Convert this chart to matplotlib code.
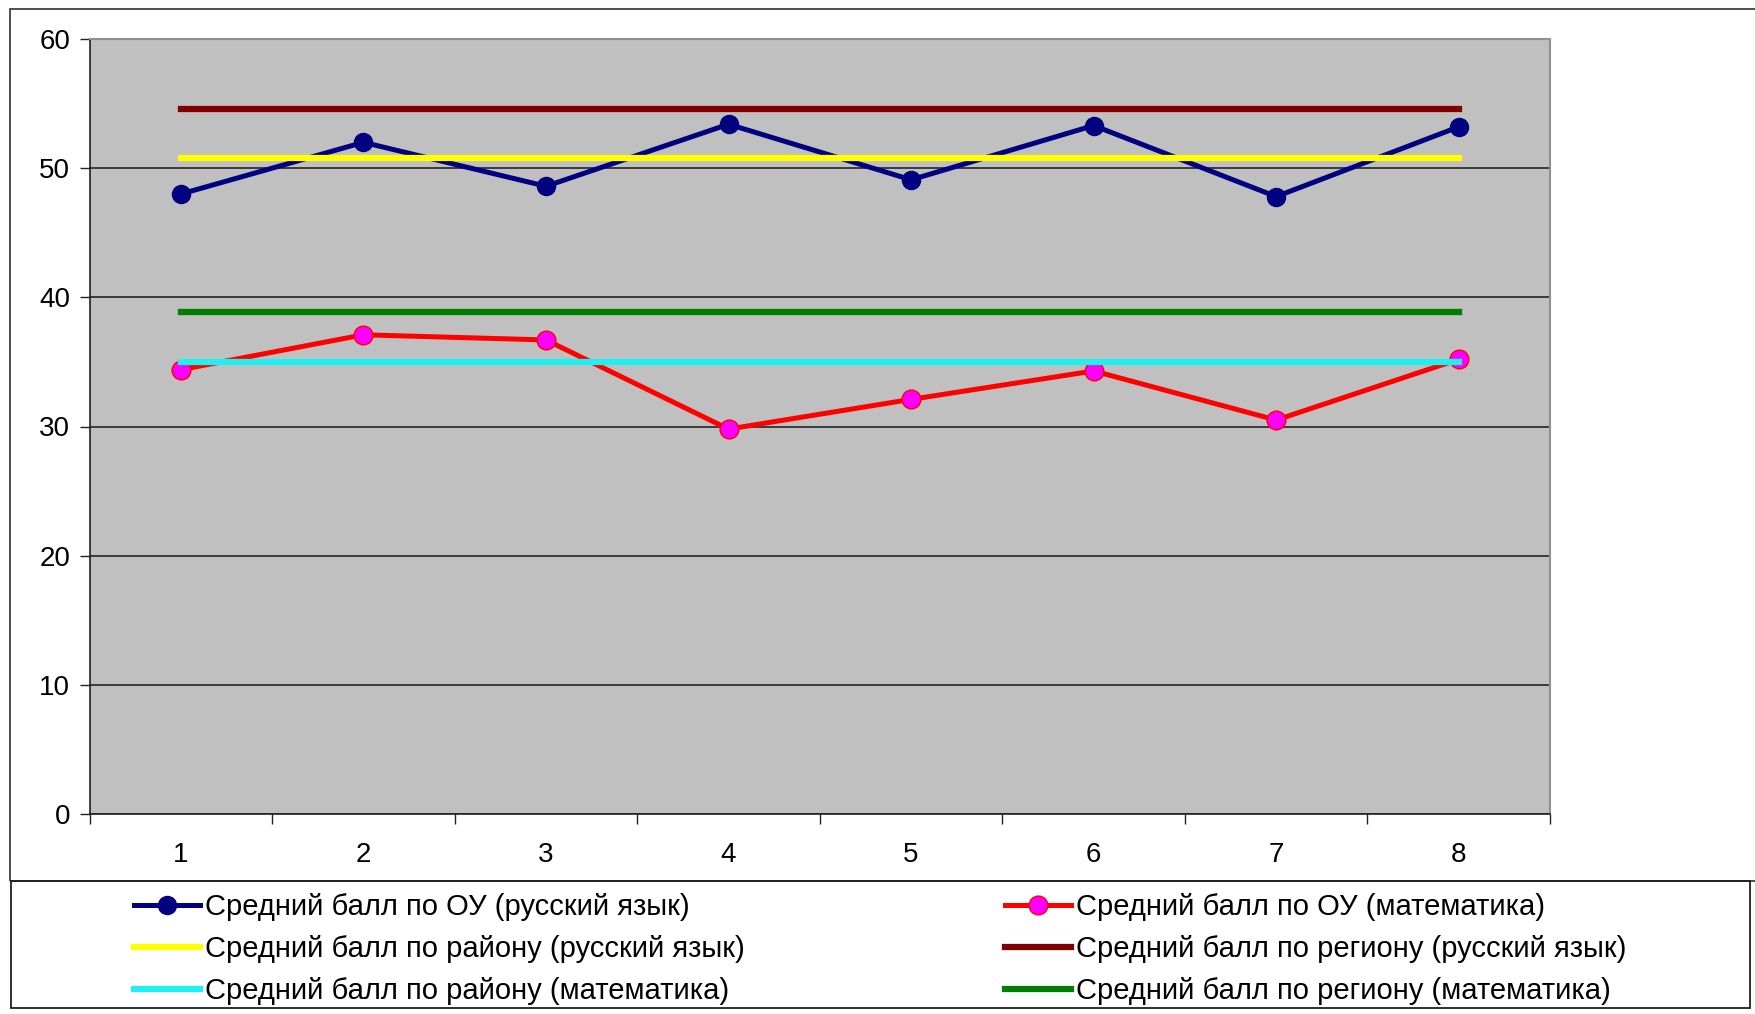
import numpy as np
import matplotlib.pyplot as plt
from matplotlib.patches import Rectangle

plt.rcParams['font.family'] = ['Liberation Sans Narrow', 'Liberation Sans', 'DejaVu Sans']

# ---- data ----
categories = [1, 2, 3, 4, 5, 6, 7, 8]
ou_rus = [48.0, 52.0, 48.6, 53.4, 49.1, 53.3, 47.8, 53.2]
ou_math = [34.4, 37.1, 36.7, 29.8, 32.1, 34.3, 30.5, 35.2]
district_rus = 50.8
region_rus = 54.6
district_math = 35.0
region_math = 38.9

labels = ['Средний балл по ОУ (русский язык)',
          'Средний балл по ОУ (математика)',
          'Средний балл по району (русский язык)',
          'Средний балл по региону (русский язык)',
          'Средний балл по району (математика)',
          'Средний балл по региону (математика)']

W, H = 1756, 1014
fig = plt.figure(figsize=(W / 100, H / 100), dpi=100)
ax = fig.add_axes([89.6 / W, 1 - 814 / H, (1550 - 89.6) / W, (814 - 39) / H])
ax.set_facecolor('#C0C0C0')

x = np.array(categories)
n = len(x)

# OU lines with markers
l_rus, = ax.plot(x, ou_rus, color='#000080', lw=3.6, marker='o', ms=13,
                 mfc='#000080', mec='#000080', zorder=3)
l_math, = ax.plot(x, ou_math, color='#FF0000', lw=3.6, marker='o', ms=13.5,
                  mfc='#FF00FF', mec='#FF0000', mew=1, zorder=3)

# reference levels (flat series)
kw = dict(lw=4.5, solid_capstyle='projecting', zorder=4)
l_dr, = ax.plot(x, [district_rus] * n, color='#FFFF00', **kw)
l_rr, = ax.plot(x, [region_rus] * n, color='#800000', **kw)
l_dm, = ax.plot(x, [district_math] * n, color='#20F0F0', **kw)
l_rm, = ax.plot(x, [region_math] * n, color='#008000', **kw)

ax.set_xlim(0.5, n + 0.5)
ax.set_ylim(0, 60)
ax.set_yticks(range(0, 61, 10))
ax.yaxis.grid(True, color='#303030', lw=1.3)
ax.set_axisbelow(True)

ax.set_xticks(np.arange(0.5, n + 1, 1))
ax.set_xticklabels([])
ax.set_xticks(x, minor=True)
ax.set_xticklabels([str(c) for c in categories], minor=True)
ax.tick_params(axis='x', which='major', length=7, width=1, color='#202020', direction='out')
ax.tick_params(axis='x', which='minor', length=0, pad=20, labelsize=20)
ax.tick_params(axis='y', length=7, width=1, color='#202020', pad=7, labelsize=20)

for s in ['left', 'bottom']:
    ax.spines[s].set_color('#202020')
    ax.spines[s].set_linewidth(1.2)
for s in ['top', 'right']:
    ax.spines[s].set_color('#909090')
    ax.spines[s].set_linewidth(1.5)

# outer frame and legend box
fig.patches.append(Rectangle((10 / W, 1 - 881 / H), 1.1, 872 / H,
                             transform=fig.transFigure, fill=False,
                             ec='#404040', lw=1.3))
fig.patches.append(Rectangle((11 / W, 1 - 1008 / H), 1739 / W, 127 / H,
                             transform=fig.transFigure, fill=False,
                             ec='#202020', lw=1.3))

leg_kw = dict(loc='upper left', frameon=False, fontsize=21, handlelength=2.25,
              handletextpad=0.2, labelspacing=0.48, borderpad=0, borderaxespad=0)
fig.legend([l_rus, l_dr, l_dm], [labels[0], labels[2], labels[4]],
           bbox_to_anchor=(134 / W, 1 - 893 / H), **leg_kw)
fig.legend([l_math, l_rr, l_rm], [labels[1], labels[3], labels[5]],
           bbox_to_anchor=(1005 / W, 1 - 893 / H), **leg_kw)

fig.savefig('out.png', dpi=100)
